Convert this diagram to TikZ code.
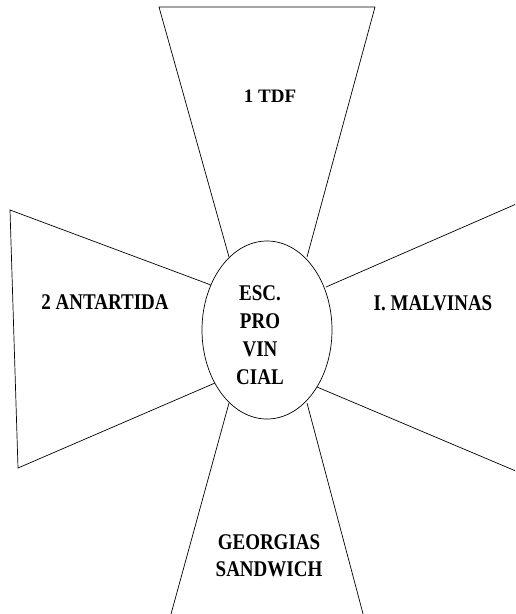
\documentclass[tikz,border=0pt]{standalone}
\usepackage{fontspec}
\setmainfont{Liberation Serif}
\usetikzlibrary{shapes.geometric}
\newcommand{\tall}[1]{\scalebox{1}[1.18]{#1}}
\begin{document}
\begin{tikzpicture}[x=1pt,y=-1pt,
  zone/.style={draw=black,line width=0.7pt},
  label/.style={font=\bfseries\fontsize{19}{28}\selectfont,align=center,inner sep=0pt}]
  \useasboundingbox (0,0) rectangle (515,614);
  \clip (0,0) rectangle (515,614);
  \node (esc) [draw,ellipse,line width=0.7pt,minimum width=130pt,minimum height=178pt,inner sep=0pt] at (267,330) {};
  \node (esctxt) [label] at (260,335) {\tall{ESC.}\\\tall{PRO}\\\tall{VIN}\\\tall{CIAL}};
  \node (tdf) [label,anchor=base] at (270,102) {1 TDF};
  \node (ant) [label,anchor=base] at (105,309) {\tall{2 ANTARTIDA}};
  \node (mal) [label,anchor=base] at (433,310) {\tall{I. MALVINAS}};
  \node (geo) [label,font=\bfseries\fontsize{19}{27}\selectfont] at (269,556) {\tall{GEORGIAS}\\\tall{SANDWICH}};
  \draw[zone] (229,257) -- (159,7) -- (375,7) -- (307,257);
  \draw[zone] (211,285) -- (10,210) -- (18,468) -- (215,383);
  \draw[zone] (326,287) -- (530,198) -- (530,477) -- (317,387);
  \draw[zone] (229,403) -- (168,625) -- (366,625) -- (307,403);
\end{tikzpicture}
\end{document}
